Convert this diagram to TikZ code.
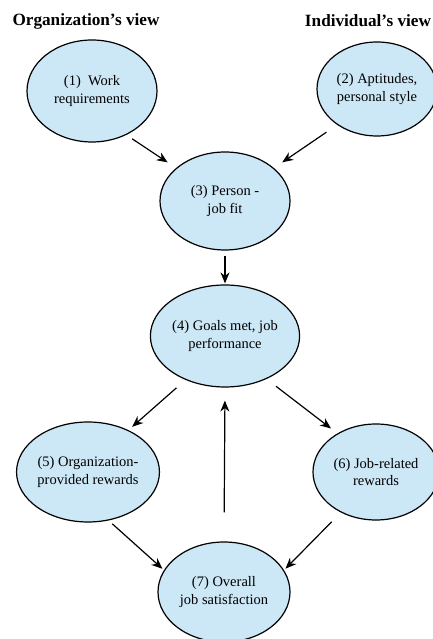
\documentclass[tikz,border=0pt]{standalone}
\usepackage{fontspec}
\setmainfont{Liberation Serif}
\usepackage{xcolor}
\usetikzlibrary{arrows.meta,shapes.geometric}
\definecolor{ellblue}{RGB}{204,231,245}
\tikzset{
  bubble/.style={ellipse,draw,line width=1.2pt,fill=ellblue,inner sep=0pt,align=center,
    font=\fontsize{14.5}{17.5}\selectfont},
  arr/.style={line width=1.2pt,-{Stealth[length=11pt,width=9pt]}},
  head/.style={font=\fontsize{17.2}{19}\selectfont\bfseries}
}

\begin{document}
\begin{tikzpicture}[x=1pt,y=1pt]
      \useasboundingbox (0,0) rectangle (432,639);
      \node[head] (orgview) at (86,618) {Organization's view};
      \node[head] (indview) at (368,618) {Individual's view};
      % the seven ellipses
      \node[bubble,minimum width=130,minimum height=102] (work) at (92,548) {(1)\ \ Work\\requirements};
      \node[bubble,minimum width=120,minimum height=94] (apt) at (377,550) {(2) Aptitudes,\\personal style};
      \node[bubble,minimum width=130,minimum height=98] (fit) at (225,438) {(3) Person -\\job fit};
      \node[bubble,minimum width=130,minimum height=102] (goals) at (225,303) {(4) Goals met, job\\performance};
      \node[bubble,minimum width=132,minimum height=100] (orgrew) at (88,167) {(5) Organization-\\provided rewards};
      \node[bubble,minimum width=126,minimum height=96] (jobrew) at (376,167) {(6) Job-related\\rewards};
      \node[bubble,minimum width=132,minimum height=100] (sat) at (224,47) {(7) Overall\\job satisfaction};
      % arrows
      \draw[arr,shorten <=7pt,shorten >=10pt] (work.-52) -- (fit.146);
      \draw[arr,shorten <=13pt,shorten >=10pt] (apt.-138) -- (fit.34);
      \draw[arr,shorten <=5pt,shorten >=1pt] (fit.south) -- (goals.north);
      \draw[arr,shorten <=12pt,shorten >=5pt] (goals.-132) -- (orgrew.46);
      \draw[arr,shorten <=12pt,shorten >=8pt] (goals.-46) -- (jobrew.135);
      \draw[arr,shorten <=5pt,shorten >=2pt] (orgrew.-67) -- (sat.160);
      \draw[arr,shorten <=13pt,shorten >=2pt] (jobrew.-131) -- (sat.20);
      \draw[arr,shorten <=29pt,shorten >=13pt] (sat.north) -- (goals.south);
\end{tikzpicture}
\end{document}
